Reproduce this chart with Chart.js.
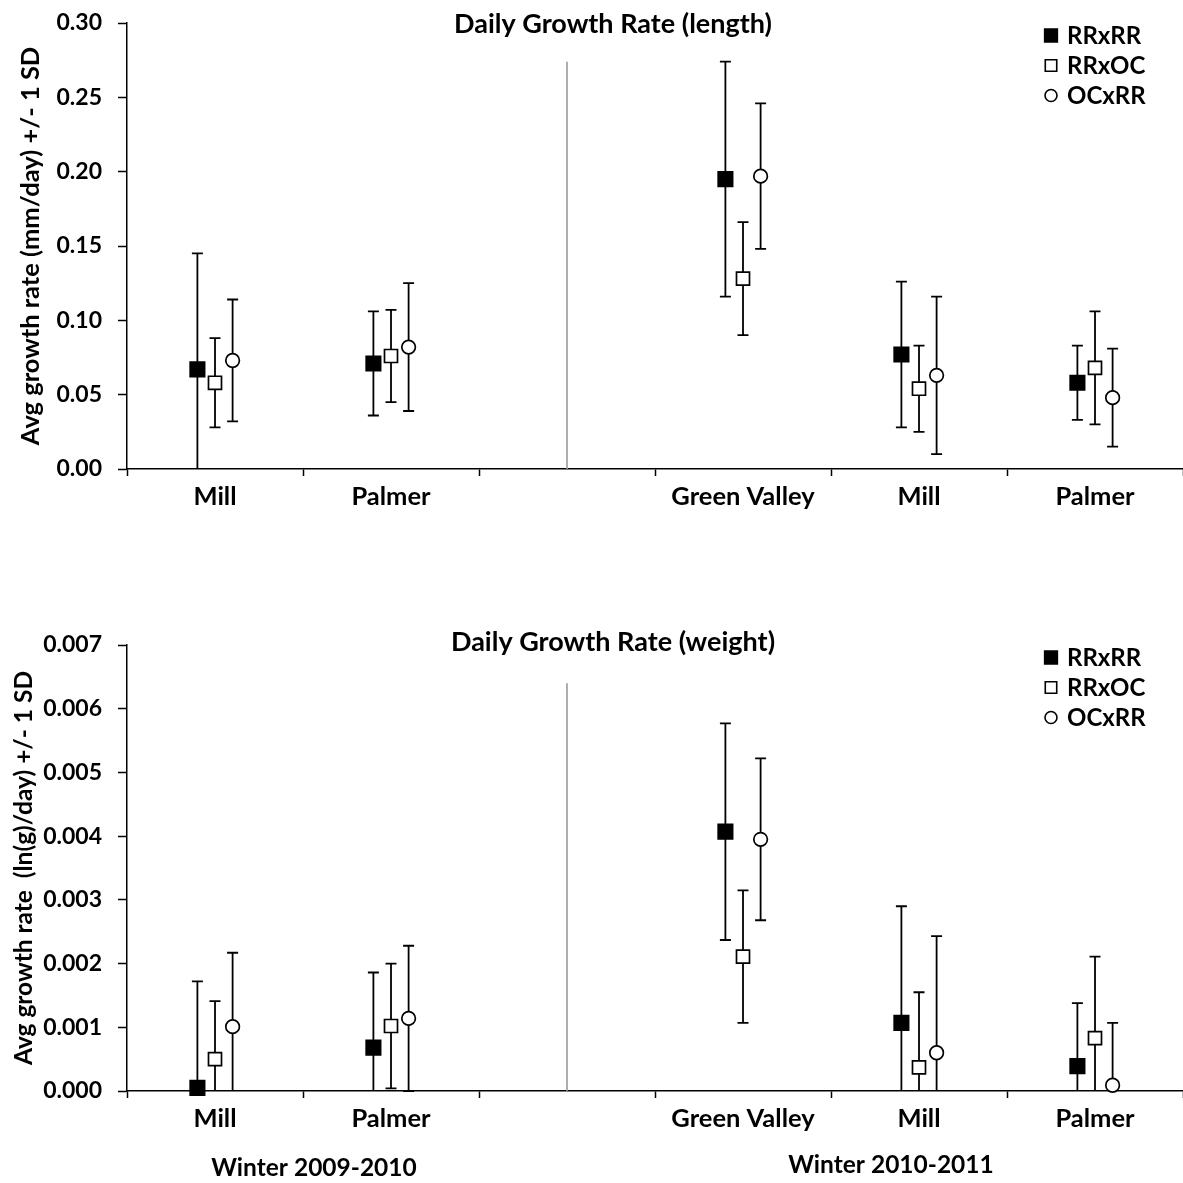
<!DOCTYPE html>
<html>
<head>
<meta charset="utf-8">
<script src="https://cdn.jsdelivr.net/npm/chart.js@4.4.1/dist/chart.umd.min.js"></script>
<style>
  body { margin: 0; background: #fff; }
  .wrap { position: relative; width: 1183px; height: 1183px; }
  canvas { position: absolute; left: 0; }
  #lengthChart { top: 0; }
  #weightChart { top: 600px; }
</style>
</head>
<body>
<div class="wrap">
  <canvas id="lengthChart" width="1183" height="560"></canvas>
  <canvas id="weightChart" width="1183" height="583"></canvas>
</div>
<script>
// sites along the x axis, the empty slot splits the two winters
const sites = ['Mill', 'Palmer', '', 'Green Valley', 'Mill', 'Palmer'];
const crosses = ['RRxRR', 'RRxOC', 'OCxRR'];

// daily growth rate in length (mm/day), means
const lengthRRxRR = [0.067, 0.071, null, 0.195, 0.077, 0.058];
const lengthRRxOC = [0.058, 0.076, null, 0.128, 0.054, 0.068];
const lengthOCxRR = [0.073, 0.082, null, 0.197, 0.063, 0.048];
// ... and standard deviations
const lengthSdRRxRR = [0.078, 0.035, null, 0.079, 0.049, 0.025];
const lengthSdRRxOC = [0.030, 0.031, null, 0.038, 0.029, 0.038];
const lengthSdOCxRR = [0.041, 0.043, null, 0.049, 0.053, 0.033];

// daily growth rate in weight (ln(g)/day), means
const weightRRxRR = [0.00005, 0.00068, null, 0.00407, 0.00107, 0.00039];
const weightRRxOC = [0.00050, 0.00102, null, 0.00211, 0.00037, 0.00083];
const weightOCxRR = [0.00101, 0.00114, null, 0.00395, 0.00060, 0.00009];
// ... and standard deviations
const weightSdRRxRR = [0.00167, 0.00118, null, 0.00170, 0.00183, 0.00099];
const weightSdRRxOC = [0.00091, 0.00098, null, 0.00104, 0.00118, 0.00128];
const weightSdOCxRR = [0.00116, 0.00114, null, 0.00127, 0.00183, 0.00098];

// y axis ticks
const lengthTicks = [0, 0.05, 0.10, 0.15, 0.20, 0.25, 0.30];
const weightTicks = [0, 0.001, 0.002, 0.003, 0.004, 0.005, 0.006, 0.007];

// height of the grey line between the winters
const lengthDivider = 0.274;
const weightDivider = 0.0064;

const FAMILY = 'Lato, "DejaVu Sans", sans-serif';
Chart.defaults.font.family = FAMILY;
Chart.defaults.font.weight = 'bold';
Chart.defaults.font.size = 24;
Chart.defaults.color = '#000';

// marker look per cross
const markerStyles = [
  { pointStyle: 'rect', pointRadius: 10.2, pointBackgroundColor: '#000' },
  { pointStyle: 'rect', pointRadius: 9.2, pointBackgroundColor: '#fff' },
  { pointStyle: 'circle', pointRadius: 6.8, pointBackgroundColor: '#fff' }
];
const SHIFT = 0.1; // side shift of each cross inside a site

// whiskers of +/- 1 SD, drawn under the markers
const errorBars = {
  id: 'errorBars',
  beforeDatasetsDraw(chart) {
    const { ctx, scales: { x, y } } = chart;
    const cap = 5.5;
    ctx.save();
    ctx.strokeStyle = '#000';
    ctx.lineWidth = 1.8;
    chart.data.datasets.forEach(ds => {
      if (!ds.isSeries) return;
      ds.data.forEach(p => {
        const px = x.getPixelForValue(p.x);
        const hi = y.getPixelForValue(p.y + p.sd);
        const lowVal = p.y - p.sd;
        const lo = y.getPixelForValue(Math.max(lowVal, y.min));
        ctx.beginPath();
        ctx.moveTo(px, hi); ctx.lineTo(px, lo);
        ctx.moveTo(px - cap, hi); ctx.lineTo(px + cap, hi);
        if (lowVal >= y.min) {
          ctx.moveTo(px - cap, lo); ctx.lineTo(px + cap, lo);
        }
        ctx.stroke();
      });
    });
    ctx.restore();
  }
};

// panel title, legend and winter captions
const panelText = {
  id: 'panelText',
  afterDraw(chart, args, opts) {
    const { ctx, chartArea } = chart;
    ctx.save();
    ctx.fillStyle = '#000';
    ctx.textBaseline = 'middle';
    ctx.textAlign = 'center';
    ctx.font = 'bold 27px ' + FAMILY;
    ctx.fillText(opts.title, 613, opts.titleY);

    ctx.font = 'bold 24px ' + FAMILY;
    let row = 0;
    chart.data.datasets.forEach(ds => {
      if (!ds.isSeries) return;
      const yy = chartArea.top + 12.5 + row * 30;
      ctx.fillStyle = ds.pointBackgroundColor;
      ctx.strokeStyle = '#000';
      ctx.lineWidth = 1.6;
      Chart.helpers.drawPoint(ctx, {
        pointStyle: ds.pointStyle,
        radius: ds.pointRadius * 0.88,
        borderWidth: 1.6,
        rotation: 0
      }, chartArea.right - 132, yy);
      ctx.fillStyle = '#000';
      ctx.textAlign = 'left';
      ctx.fillText(ds.label, chartArea.right - 116, yy + 1);
      row++;
    });

    ctx.font = 'bold 24.5px ' + FAMILY;
    (opts.captions || []).forEach(c => {
      ctx.textAlign = 'center';
      ctx.fillText(c.text, c.x, c.y);
    });
    ctx.restore();
  }
};

function makeSeries(means, sds) {
  return means.map((m, i) => (m === null ? null : { x: i, y: m, sd: sds[i] }))
    .filter(p => p !== null);
}

function buildPanel(canvasId, seriesMeans, seriesSds, ticks, digits, divider, yTitle, yTitleSize, yTitlePad, title, titleY, padTop, xHeight, captions) {
  const datasets = [{
    type: 'line',
    data: [{ x: 2, y: 0 }, { x: 2, y: divider }],
    borderColor: '#9a9a9a',
    borderWidth: 1.6,
    pointRadius: 0,
    order: 5
  }];
  crosses.forEach((name, k) => {
    const pts = makeSeries(seriesMeans[k], seriesSds[k]).map(p => ({ x: p.x + (k - 1) * SHIFT, y: p.y, sd: p.sd }));
    datasets.push(Object.assign({
      type: 'scatter',
      label: name,
      isSeries: true,
      data: pts,
      pointBorderColor: '#000',
      pointBorderWidth: 1.7,
      clip: false,
      order: 1
    }, markerStyles[k]));
  });

  return new Chart(document.getElementById(canvasId), {
    type: 'scatter',
    data: { datasets },
    plugins: [errorBars, panelText],
    options: {
      responsive: false,
      animation: false,
      layout: { autoPadding: false, padding: { top: padTop, right: 0, bottom: 0, left: 0 } },
      plugins: {
        legend: { display: false },
        tooltip: { enabled: false },
        panelText: { title, titleY, captions }
      },
      scales: {
        x: {
          type: 'linear',
          min: -0.5,
          max: sites.length - 0.5,
          afterBuildTicks: s => {
            const t = [];
            sites.forEach((_, i) => { t.push({ value: i - 0.5 }); t.push({ value: i }); });
            t.push({ value: sites.length - 0.5 });
            s.ticks = t;
          },
          afterFit: s => {
            s.height = xHeight;
            s.paddingLeft = 0;
            s.paddingRight = 0;
          },
          ticks: {
            autoSkip: false,
            maxRotation: 0,
            padding: 5,
            font: { size: 25.5 },
            callback: v => (Number.isInteger(v) ? sites[v] : '')
          },
          grid: {
            drawOnChartArea: false,
            tickLength: 7,
            tickWidth: 1.5,
            tickColor: c => (c.tick && Math.abs(c.tick.value % 1) === 0.5 ? '#000' : 'rgba(0,0,0,0)')
          },
          border: { color: '#000', width: 1.5 }
        },
        y: {
          min: 0,
          max: ticks[ticks.length - 1],
          afterBuildTicks: s => { s.ticks = ticks.map(v => ({ value: v })); },
          afterFit: s => {
            s.width = 127;
            s.paddingTop = 0;
            s.paddingBottom = 0;
          },
          ticks: { padding: 16, font: { size: 23 }, callback: v => v.toFixed(digits) },
          grid: { drawOnChartArea: false, tickLength: 9, tickWidth: 1.5, tickColor: '#000' },
          border: { color: '#000', width: 1.5 },
          title: { display: true, text: yTitle, font: { size: yTitleSize }, padding: { top: yTitlePad, bottom: 0 } }
        }
      }
    }
  });
}

buildPanel('lengthChart',
  [lengthRRxRR, lengthRRxOC, lengthOCxRR],
  [lengthSdRRxRR, lengthSdRRxOC, lengthSdOCxRR],
  lengthTicks, 2, lengthDivider,
  'Avg growth rate (mm/day) +/- 1 SD', 25.5, 15,
  'Daily Growth Rate (length)', 24, 23, 91, []);

buildPanel('weightChart',
  [weightRRxRR, weightRRxOC, weightOCxRR],
  [weightSdRRxRR, weightSdRRxOC, weightSdOCxRR],
  weightTicks, 3, weightDivider,
  'Avg growth rate  (ln(g)/day) +/- 1 SD', 24.5, 9,
  'Daily Growth Rate (weight)', 42.5, 45, 92,
  [{ text: 'Winter 2009-2010', x: 314, y: 568 }, { text: 'Winter 2010-2011', x: 891, y: 565 }]);
</script>
</body>
</html>
